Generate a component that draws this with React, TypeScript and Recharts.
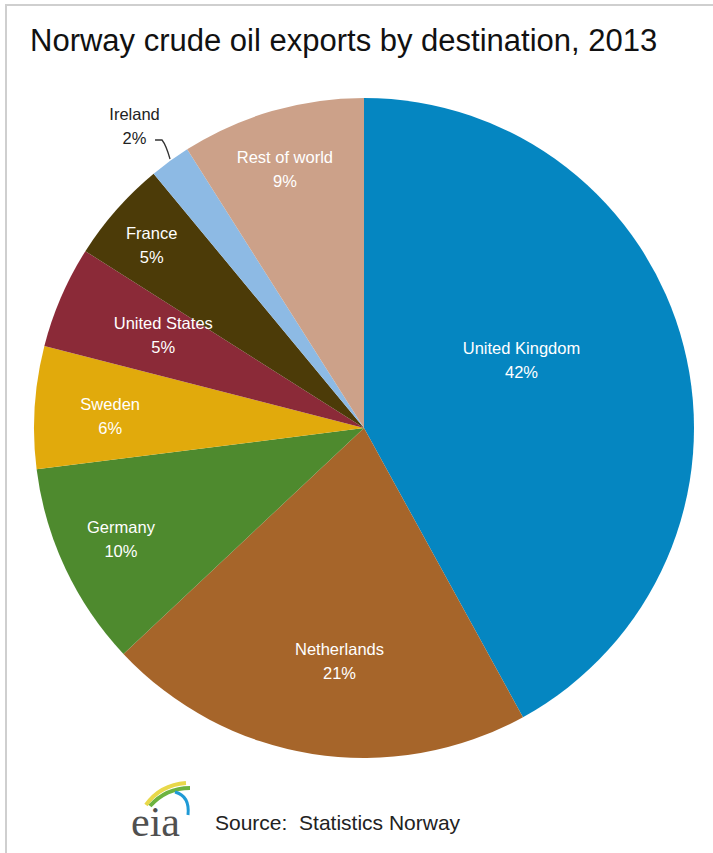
import { Cell, Pie, PieChart } from "recharts";

const destinations = [
  "United Kingdom",
  "Netherlands",
  "Germany",
  "Sweden",
  "United States",
  "France",
  "Ireland",
  "Rest of world",
];

const shares = [42, 21, 10, 6, 5, 5, 2, 9];

const COLORS = [
  "#0586C1",
  "#A6652A",
  "#4E8A2E",
  "#E1AA0C",
  "#8B2A38",
  "#4C3B08",
  "#8DBAE4",
  "#CCA189",
];

// label placement tweaks: [fraction of radius, angle nudge in degrees]
const LABEL_POS: [number, number][] = [
  [0.52, 9],
  [0.71, 3],
  [0.81, -0.6],
  [0.77, 0.9],
  [0.67, -1.4],
  [0.85, 0.6],
  [1.15, 1.2],
  [0.82, 0.8],
];

const data = destinations.map((name, i) => ({ name, value: shares[i] }));

const RADIAN = Math.PI / 180;
const FONT = "'Liberation Sans', Arial, sans-serif";

function renderLabel(props: any) {
  const { cx, cy, midAngle, outerRadius, index, name, value } = props;
  const [frac, nudge] = LABEL_POS[index];
  const ang = (midAngle + nudge) * RADIAN;
  const r = outerRadius * frac;
  const x = cx + r * Math.cos(-ang);
  const y = cy + r * Math.sin(-ang);
  const outside = frac > 1;
  const fill = outside ? "#222" : "#fff";

  let leader = null;
  if (outside) {
    const ox = cx + outerRadius * Math.cos(-midAngle * RADIAN);
    const oy = cy + outerRadius * Math.sin(-midAngle * RADIAN);
    leader = (
      <path
        d={`M${ox},${oy - 2} Q${ox - 4},${oy - 16} ${ox - 8},${oy - 21} L${ox - 15},${oy - 21}`}
        stroke="#333"
        strokeWidth={1.3}
        fill="none"
      />
    );
  }

  return (
    <g key={`lbl-${index}`}>
      {leader}
      <text
        x={x}
        y={y - 12}
        textAnchor="middle"
        dominantBaseline="central"
        fill={fill}
        fontSize={16.5}
        fontFamily={FONT}
      >
        {name}
      </text>
      <text
        x={x}
        y={y + 12}
        textAnchor="middle"
        dominantBaseline="central"
        fill={fill}
        fontSize={16.5}
        fontFamily={FONT}
      >
        {value}%
      </text>
    </g>
  );
}

export default function App() {
  return (
    <div
      style={{
        position: "absolute",
        left: 0,
        top: 0,
        width: 713,
        height: 853,
        background: "#fff",
        overflow: "hidden",
      }}
    >
      <div
        style={{
          position: "absolute",
          left: 5,
          top: 4,
          right: 0,
          bottom: 0,
          borderTop: "2px solid #cfcfcf",
          borderLeft: "2px solid #cfcfcf",
        }}
      />
      <div
        style={{
          position: "absolute",
          left: 30,
          top: 23,
          fontFamily: FONT,
          fontSize: 31,
          color: "#111",
          whiteSpace: "nowrap",
        }}
      >
        Norway crude oil exports by destination, 2013
      </div>

      <div style={{ position: "absolute", left: 0, top: 0 }}>
        <PieChart width={713} height={853}>
          <Pie
            data={data}
            dataKey="value"
            nameKey="name"
            cx={359}
            cy={423}
            outerRadius={330}
            startAngle={90}
            endAngle={-270}
            stroke="none"
            labelLine={false}
            label={renderLabel}
            isAnimationActive={false}
          >
            {data.map((_, i) => (
              <Cell key={i} fill={COLORS[i]} />
            ))}
          </Pie>
        </PieChart>
      </div>

      <svg
        width={713}
        height={853}
        style={{ position: "absolute", left: 0, top: 0, pointerEvents: "none" }}
      >
        <path d="M146,805 Q160,785 186,783" stroke="#E8D84A" strokeWidth={4} fill="none" />
        <path d="M150,806 Q166,788 190,788" stroke="#6DB33F" strokeWidth={4} fill="none" />
        <path d="M175,792 Q190,796 188,815" stroke="#1F9AD6" strokeWidth={3} fill="none" />
        <text
          x={131}
          y={836}
          fontFamily="'Liberation Serif', 'DejaVu Serif', serif"
          fontSize={42}
          fill="#505050"
        >
          eia
        </text>
        <text x={215} y={830} fontFamily={FONT} fontSize={21} fill="#222">
          Source:{"\u00a0\u00a0"}Statistics Norway
        </text>
      </svg>
    </div>
  );
}
